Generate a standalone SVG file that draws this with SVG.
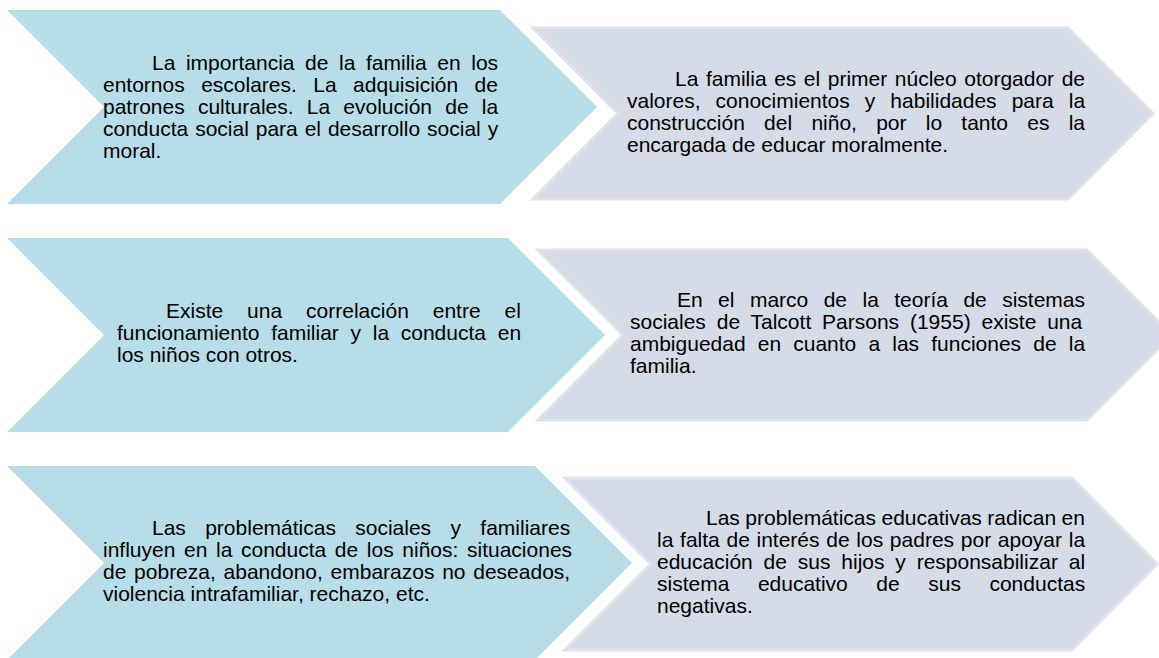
<svg xmlns="http://www.w3.org/2000/svg" width="1159" height="658" viewBox="0 0 1159 658">
<style>
.blue{fill:#b7dde8;stroke:none}
.grey{fill:#d5dbe7;stroke:#dde2ec;stroke-width:3;stroke-linejoin:miter}
.t{font-family:"Liberation Sans",Arial,sans-serif;font-size:21px;fill:#000}
</style>
<rect width="1159" height="658" fill="#fff"/>
<g id="connectors"></g>
<g id="node-b1">
<polygon class="blue" points="7,10 500,10 597,107 500,204 7,204 104,107"/>
<text class="t">
<tspan x="152" y="70" style="word-spacing:4.76px">La importancia de la familia en los</tspan>
<tspan x="103" y="92" style="word-spacing:10.6px">entornos escolares. La adquisición de</tspan>
<tspan x="103" y="114" style="word-spacing:7.34px">patrones culturales. La evolución de la</tspan>
<tspan x="103" y="136" style="word-spacing:1.07px">conducta social para el desarrollo social y</tspan>
<tspan x="103" y="158">moral.</tspan>
</text>
</g>
<g id="node-g1">
<polygon class="grey" points="533,28 1068,28 1153,113.5 1068,199 533,199 618,113.5"/>
<text class="t">
<tspan x="675" y="86" style="word-spacing:1.71px">La familia es el primer núcleo otorgador de</tspan>
<tspan x="627" y="108" style="word-spacing:9.2px">valores, conocimientos y habilidades para la</tspan>
<tspan x="627" y="130" style="word-spacing:13.4px">construcción del niño, por lo tanto es la</tspan>
<tspan x="627" y="152">encargada de educar moralmente.</tspan>
</text>
</g>
<g id="node-b2">
<polygon class="blue" points="7,238 508,238 605,335 508,432 7,432 104,335"/>
<text class="t">
<tspan x="166" y="318" style="word-spacing:18.1px">Existe una correlación entre el</tspan>
<tspan x="117" y="340" style="word-spacing:5.87px">funcionamiento familiar y la conducta en</tspan>
<tspan x="117" y="362">los niños con otros.</tspan>
</text>
</g>
<g id="node-g2">
<polygon class="grey" points="538,250 1087,250 1172,335 1087,420 538,420 623,335"/>
<text class="t">
<tspan x="677" y="307" style="word-spacing:9.6px">En el marco de la teoría de sistemas</tspan>
<tspan x="630" y="329" style="word-spacing:5px">sociales de Talcott Parsons (1955) existe una</tspan>
<tspan x="630" y="351" style="word-spacing:6.3px">ambiguedad en cuanto a las funciones de la</tspan>
<tspan x="630" y="373">familia.</tspan>
</text>
</g>
<g id="node-b3">
<polygon class="blue" points="7,466 535,466 632,563 535,660 7,660 104,563"/>
<text class="t">
<tspan x="152" y="535" style="word-spacing:13.5px">Las problemáticas sociales y familiares</tspan>
<tspan x="103" y="557" style="word-spacing:2.8px">influyen en la conducta de los niños: situaciones</tspan>
<tspan x="103" y="579" style="word-spacing:1.9px">de pobreza, abandono, embarazos no deseados,</tspan>
<tspan x="103" y="601">violencia intrafamiliar, rechazo, etc.</tspan>
</text>
</g>
<g id="node-g3">
<polygon class="grey" points="565,478 1072,478 1157,564 1072,650 565,650 651,564"/>
<text class="t">
<tspan x="706" y="525" style="word-spacing:-0.4px">Las problemáticas educativas radican en</tspan>
<tspan x="657" y="547" style="word-spacing:0.87px">la falta de interés de los padres por apoyar la</tspan>
<tspan x="657" y="569" style="word-spacing:5px">educación de sus hijos y responsabilizar al</tspan>
<tspan x="657" y="591" style="word-spacing:22.7px">sistema educativo de sus conductas</tspan>
<tspan x="657" y="613">negativas.</tspan>
</text>
</g>
</svg>
